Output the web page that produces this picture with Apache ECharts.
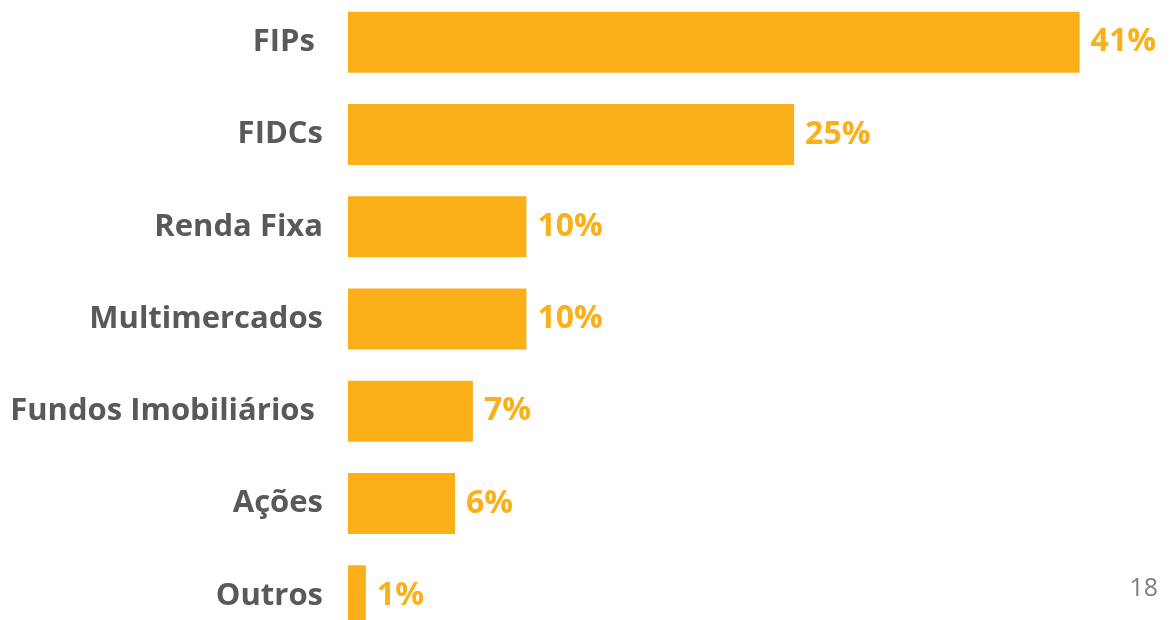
<!DOCTYPE html>
<html>
<head>
<meta charset="utf-8">
<script src="https://cdn.jsdelivr.net/npm/echarts@6/dist/echarts.min.js"></script>
<style>
  html, body { margin: 0; padding: 0; background: #fff; overflow: hidden; width: 1176px; height: 620px; }
  /* o gráfico original é cortado em cima e embaixo */
  #chart { width: 1176px; height: 646px; margin-top: -4px; }
</style>
</head>
<body>
<div id="chart"></div>
<script>
// categorias, de cima para baixo
const categories = ['FIPs ', 'FIDCs', 'Renda Fixa', 'Multimercados', 'Fundos Imobiliários ', 'Ações', 'Outros']
const shares = [41, 25, 10, 10, 7, 6, 1]
const pageNumber = '18'

const barColor = '#FBB01A'
const textGray = '#595959'
const fontFamily = '"Open Sans", "Noto Sans", sans-serif'

const chart = echarts.init(document.getElementById('chart'))

const option = {
  animation: false,
  grid: {
    left: 348,
    right: 25,
    top: 0,
    bottom: 0,
    containLabel: false
  },
  xAxis: {
    type: 'value',
    min: 0,
    max: 45,
    show: false
  },
  yAxis: {
    type: 'category',
    data: categories,
    inverse: true,
    axisLine: { show: false },
    axisTick: { show: false },
    axisLabel: {
      margin: 25,
      color: textGray,
      fontSize: 31,
      fontWeight: 'bold',
      fontFamily: fontFamily
    }
  },
  series: [{
    type: 'bar',
    data: shares,
    barWidth: 61,
    itemStyle: { color: barColor },
    label: {
      show: true,
      position: 'right',
      distance: 11,
      formatter: '{c}%',
      color: barColor,
      fontSize: 32,
      fontWeight: 'bold',
      fontFamily: fontFamily
    }
  }],
  graphic: [{
    type: 'text',
    right: 18,
    top: 580,
    style: {
      text: pageNumber,
      fill: '#7f7f7f',
      fontSize: 25,
      fontFamily: fontFamily
    }
  }]
}

chart.setOption(option)
</script>
</body>
</html>
